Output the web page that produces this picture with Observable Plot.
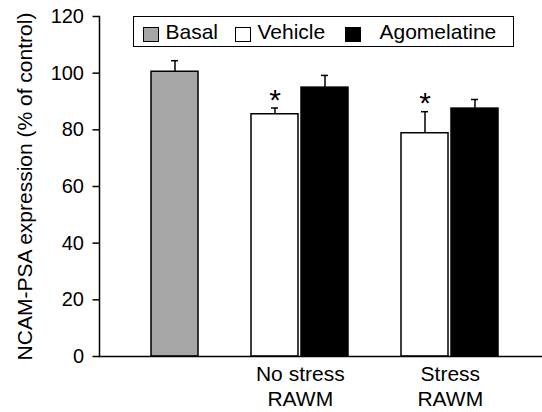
<!DOCTYPE html>
<html>
<head>
<meta charset="utf-8">
<script src="https://cdn.jsdelivr.net/npm/d3@7"></script>
<script src="https://cdn.jsdelivr.net/npm/@observablehq/plot@0.6"></script>
<style>
  body { margin: 0; background: #fff; }
  #wrap { position: relative; width: 542px; height: 412px; font-family: "Liberation Sans", Arial, Helvetica, sans-serif; }
  #legend { position: absolute; left: 133px; top: 16px; width: 381px; height: 31px; border: 1.5px solid #000; box-sizing: border-box; background: #fff; }
  .sw { position: absolute; top: 9.5px; width: 16px; height: 15px; border: 1.5px solid #000; box-sizing: border-box; }
  .lt { position: absolute; top: 0; line-height: 30px; font-size: 21px; color: #000; white-space: nowrap; }
</style>
</head>
<body>
<div id="wrap"></div>
<script>
// ---- data ----
const slots = ["Basal", "gap1", "NS-Vehicle", "NS-Agomelatine", "gap2", "S-Vehicle", "S-Agomelatine"];
const bars = ["Basal", "NS-Vehicle", "NS-Agomelatine", "S-Vehicle", "S-Agomelatine"];
const barTreatment = ["Basal", "Vehicle", "Agomelatine", "Vehicle", "Agomelatine"];
const means = [100.5, 85.5, 94.9, 78.8, 87.5];
const sems = [3.9, 2.2, 4.3, 7.6, 3.2];
const significant = [false, true, false, true, false];
const treatments = ["Basal", "Vehicle", "Agomelatine"];
const treatmentColors = ["#a6a6a6", "#ffffff", "#000000"];
const groupLabels = ["No stress\nRAWM", "Stress\nRAWM"];
const groupFirstBar = ["NS-Vehicle", "S-Vehicle"];
const yTicks = [0, 20, 40, 60, 80, 100, 120];
const yLabel = "NCAM-PSA expression (% of control)";

// ---- build ----
const data = bars.map((b, i) => ({bar: b, treatment: barTreatment[i], mean: means[i], top: means[i] + sems[i], sig: significant[i]}));
const groups = groupLabels.map((l, i) => ({label: l, bar: groupFirstBar[i]}));
const font = '"Liberation Sans", Arial, Helvetica, sans-serif';

const chart = Plot.plot({
  width: 542,
  height: 412,
  marginLeft: 99,
  marginRight: 0,
  marginTop: 16,
  marginBottom: 56,
  style: {fontFamily: font, fontSize: "20px", background: "white", color: "black"},
  x: {domain: slots, range: [147, 502], paddingInner: 0.053, paddingOuter: 0.0265, axis: null},
  y: {domain: [0, 120], axis: null},
  color: {domain: treatments, range: treatmentColors},
  marks: [
    Plot.ruleX(data, {x: "bar", y1: "mean", y2: "top", stroke: "black", strokeWidth: 1.5}),
    Plot.tickY(data, {x: "bar", y: "top", stroke: "black", strokeWidth: 1.5, insetLeft: 20, insetRight: 20}),
    Plot.barY(data, {x: "bar", y: "mean", fill: "treatment", stroke: "black", strokeWidth: 1.5}),
    Plot.text(data.filter(d => d.sig), {x: "bar", y: "top", text: () => "*", fontSize: 30, fill: "black", dy: -8}),
    Plot.axisY({ticks: yTicks, tickSize: 6.5, tickPadding: 9, fontSize: 20, label: null, strokeWidth: 1.5}),
    Plot.frame({anchor: "left", strokeWidth: 1.5}),
    Plot.ruleY([0], {strokeWidth: 1.5}),
    Plot.text(groups, {x: "bar", text: "label", frameAnchor: "bottom", lineAnchor: "top", textAnchor: "middle", dx: 25.3, dy: 7, lineHeight: 1.18, fontSize: 21, fill: "black"}),
    Plot.text([yLabel], {frameAnchor: "left", rotate: -90, textAnchor: "middle", lineAnchor: "middle", dx: -74, fontSize: 21, fill: "black"})
  ]
});

const wrap = document.getElementById("wrap");
wrap.appendChild(chart);

// legend overlay (HTML)
const legend = document.createElement("div");
legend.id = "legend";
const swatchLeft = [8.5, 100.5, 210.5];
const textLeft = [31.5, 123.5, 245.5];
treatments.forEach((t, i) => {
  const sw = document.createElement("div");
  sw.className = "sw";
  sw.style.left = swatchLeft[i] + "px";
  sw.style.background = treatmentColors[i];
  legend.appendChild(sw);
  const tx = document.createElement("div");
  tx.className = "lt";
  tx.style.left = textLeft[i] + "px";
  tx.textContent = t;
  legend.appendChild(tx);
});
wrap.appendChild(legend);
</script>
</body>
</html>
